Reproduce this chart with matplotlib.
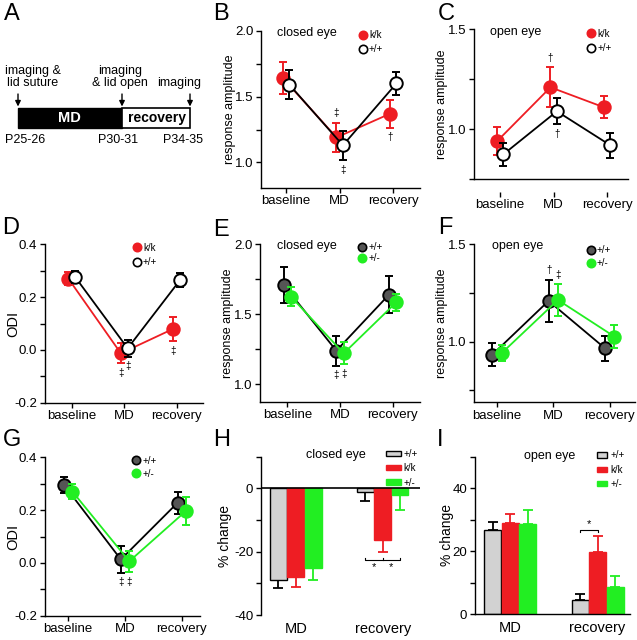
import numpy as np
import matplotlib
matplotlib.use('Agg')
import matplotlib.pyplot as plt
from matplotlib.patches import Rectangle
from matplotlib.lines import Line2D
from matplotlib.ticker import MultipleLocator

plt.rcParams['font.family'] = ['Liberation Sans', 'DejaVu Sans']
plt.rcParams['axes.unicode_minus'] = False

RED = '#ee1d23'
GREEN = '#22ee22'
DGRAY = '#555555'
LGRAY = '#d2d2d2'

stages = ['baseline', 'MD', 'recovery']
bar_groups = ['MD', 'recovery']

# A: timeline schematic
events = ['imaging &\nlid suture', 'imaging\n& lid open', 'imaging']
ages = ['P25-26', 'P30-31', 'P34-35']
periods = ['MD', 'recovery']

# B: closed eye, k/k vs +/+
b_kk = [1.64, 1.19, 1.37]
b_kk_err = [0.12, 0.11, 0.105]
b_wt = [1.59, 1.13, 1.60]
b_wt_err = [0.11, 0.11, 0.085]

# C: open eye, k/k vs +/+
c_kk = [0.94, 1.21, 1.11]
c_kk_err = [0.07, 0.10, 0.055]
c_wt = [0.875, 1.09, 0.92]
c_wt_err = [0.057, 0.065, 0.062]

# D: ODI, k/k vs +/+
d_kk = [0.27, -0.013, 0.08]
d_kk_err = [0.025, 0.038, 0.046]
d_wt = [0.276, 0.006, 0.265]
d_wt_err = [0.022, 0.032, 0.025]

# E: closed eye, +/+ vs +/-
e_wt = [1.71, 1.24, 1.64]
e_wt_err = [0.126, 0.106, 0.131]
e_het = [1.626, 1.221, 1.586]
e_het_err = [0.068, 0.078, 0.06]

# F: open eye, +/+ vs +/-
f_wt = [0.932, 1.209, 0.966]
f_wt_err = [0.06, 0.11, 0.064]
f_het = [0.94, 1.214, 1.026]
f_het_err = [0.04, 0.08, 0.058]

# G: ODI, +/+ vs +/-
g_wt = [0.295, 0.013, 0.228]
g_wt_err = [0.03, 0.05, 0.042]
g_het = [0.27, 0.006, 0.197]
g_het_err = [0.027, 0.04, 0.053]

# H: % change closed eye
h_wt = [-28.8, -1.3]
h_wt_err = [2.8, 2.6]
h_kk = [-28.0, -16.4]
h_kk_err = [3.1, 3.7]
h_het = [-25.1, -2.1]
h_het_err = [3.9, 4.6]

# I: % change open eye
i_wt = [26.6, 4.55]
i_wt_err = [2.6, 1.9]
i_kk = [28.9, 19.7]
i_kk_err = [2.8, 5.2]
i_het = [28.7, 8.6]
i_het_err = [4.4, 3.6]

W, H = 637, 640
fig = plt.figure(figsize=(W / 100, H / 100), dpi=100)


def rect(l, t, r, b):
    return [l / W, 1 - b / H, (r - l) / W, (b - t) / H]


def base_style(ax, ylim, major, minor, fs=9.5):
    for s in ['top', 'right']:
        ax.spines[s].set_visible(False)
    for s in ['left', 'bottom']:
        ax.spines[s].set_linewidth(1.0)
    ax.set_ylim(*ylim)
    ax.yaxis.set_major_locator(MultipleLocator(major))
    ax.yaxis.set_minor_locator(MultipleLocator(minor))
    ax.tick_params(axis='both', which='both', direction='out', width=1.0, labelsize=fs, pad=2)
    ax.tick_params(axis='both', which='major', length=3.5)
    ax.tick_params(axis='y', which='minor', length=3.5)


def line_panel(ax, series, xlim, ylim, major, minor, fmt, ylabel, ylab_x, ylab_fs,
               title, title_xy, leg_xy, leg_space, offset, marks):
    x = np.arange(len(stages))
    for i, s in enumerate(series):
        xs = x + (2 * i - 1) * offset
        ax.errorbar(xs, s['y'], yerr=s['err'], fmt='none', ecolor=s['ecolor'],
                    elinewidth=1.4, capsize=3, capthick=1.4, zorder=2 + 2 * i)
        ax.plot(xs, s['y'], color=s['line'], lw=1.3, marker='o', ms=9,
                mfc=s['face'], mec=s['edge'], mew=1.4, zorder=3 + 2 * i)
    for si, k, sym, side in marks:
        s = series[si]
        xs = k + (2 * si - 1) * offset
        if side == 'above':
            y0, dy = s['y'][k] + s['err'][k], 7
        else:
            y0, dy = s['y'][k] - s['err'][k], -7
        ax.annotate(sym, (xs, y0), xytext=(0, dy), textcoords='offset points',
                    ha='center', va='center', fontsize=7)
    base_style(ax, ylim, major, minor)
    ax.set_xlim(*xlim)
    ax.set_xticks(x)
    ax.set_xticklabels(stages)
    ax.yaxis.set_major_formatter(plt.FormatStrFormatter(fmt))
    ax.set_ylabel(ylabel, fontsize=ylab_fs)
    ax.yaxis.set_label_coords(ylab_x, 0.5)
    ax.yaxis.label.set_verticalalignment('center')
    if title:
        ax.text(title_xy[0], title_xy[1], title, transform=ax.transAxes,
                ha='center', va='center', fontsize=9)
    handles = [Line2D([], [], ls='none', marker='o', ms=6, mfc=s['face'], mec=s['edge'],
                      mew=1.2, label=s['label']) for s in series]
    ax.legend(handles=handles, loc='upper left', bbox_to_anchor=leg_xy, frameon=False,
              fontsize=7, handlelength=0.8, handletextpad=0.25, labelspacing=leg_space,
              borderpad=0, borderaxespad=0)


def bar_panel(ax, series, xlim, ylim, major, minor, labels_major, title, title_xy,
              leg_xy, leg_hl, sig):
    x = np.arange(len(bar_groups))
    width = 0.2
    for i, s in enumerate(series):
        xs = x + (i - 1) * width
        vals = np.array(s['y'])
        err = np.array(s['err'])
        lower = np.where(vals < 0, err, 0)
        upper = np.where(vals < 0, 0, err)
        ax.bar(xs, vals, width=width * 0.97, color=s['face'], edgecolor=s['edge'],
               linewidth=1.0, label=s['label'], zorder=2)
        ax.errorbar(xs, vals, yerr=[lower, upper], fmt='none', ecolor=s['ecolor'],
                    elinewidth=1.3, capsize=3.5, capthick=1.3, zorder=1)
    base_style(ax, ylim, major, minor)
    ax.set_yticks(labels_major)
    ax.set_xlim(*xlim)
    ax.set_xticks(x)
    ax.set_xticklabels(bar_groups, fontsize=10.5)
    ax.tick_params(axis='x', length=0, pad=5)
    ax.set_ylabel('% change', fontsize=10)
    ax.text(title_xy[0], title_xy[1], title, transform=ax.transAxes,
            ha='center', va='center', fontsize=9)
    ax.legend(loc='upper left', bbox_to_anchor=leg_xy, frameon=False, fontsize=7,
              handlelength=leg_hl, handleheight=0.5, handletextpad=0.3,
              labelspacing=0.45, borderpad=0, borderaxespad=0)
    # significance bracket
    g, a, b, ybr, tick, stars, ystar = sig
    xa = g + (a - 1) * width
    xb = g + (b - 1) * width
    ax.plot([xa, xa, xb, xb], [ybr + tick, ybr, ybr, ybr + tick], color='k', lw=0.8)
    if len(stars) > 1:
        ax.plot([(xa + xb) / 2] * 2, [ybr, ybr + tick], color='k', lw=0.8)
    for xs_ in stars:
        ax.text(g + xs_ * width, ystar, '*', ha='center', va='center', fontsize=8)


# ---------------- A: schematic ----------------
axA = fig.add_axes([0, 1 - 215 / H, 215 / W, 215 / H])
axA.set_xlim(0, 215)
axA.set_ylim(215, 0)
axA.axis('off')
ev_x = [18, 122, 190]
txt_x = [33, 120, 179]
age_x = [25.5, 118, 182.5]
axA.add_patch(Rectangle((ev_x[0], 107.5), ev_x[1] - ev_x[0], 20, facecolor='k', edgecolor='k', lw=1))
axA.add_patch(Rectangle((ev_x[1], 107.5), ev_x[2] - ev_x[1], 20, facecolor='white', edgecolor='k', lw=1.2))
axA.text((ev_x[0] + ev_x[1]) / 2 - 1, 118, periods[0], color='white', fontweight='bold',
         fontsize=10.5, ha='center', va='center')
axA.text((ev_x[1] + ev_x[2]) / 2 + 1, 118, periods[1], color='k', fontweight='bold',
         fontsize=10, ha='center', va='center')
for ex, tx, ax_, ev, ag in zip(ev_x, txt_x, age_x, events, ages):
    axA.annotate('', xy=(ex, 106.5), xytext=(ex, 94),
                 arrowprops=dict(arrowstyle='-|>', color='k', lw=1, mutation_scale=8,
                                 shrinkA=0, shrinkB=0))
    axA.text(tx, 89, ev, ha='center', va='bottom', fontsize=9, linespacing=1.05)
    axA.text(ax_, 140, ag, ha='center', va='center', fontsize=9)

# panel letters
letters = ['A', 'B', 'C', 'D', 'E', 'F', 'G', 'H', 'I']
letter_xy = [(12, 14), (221, 14.5), (446, 14), (11, 228.5), (221, 229.5), (445, 228),
             (12, 440), (222, 440), (440, 440)]
for L, (lx, ly) in zip(letters, letter_xy):
    fig.text(lx / W, 1 - ly / H, L, fontsize=17, ha='center', va='center')

open_k = dict(face='white', edge='k', line='k', ecolor='k', label='+/+')
red_k = dict(face=RED, edge=RED, line=RED, ecolor=RED, label='k/k')
gray_k = dict(face=DGRAY, edge='k', line='k', ecolor='k', label='+/+')
green_k = dict(face=GREEN, edge=GREEN, line=GREEN, ecolor=GREEN, label='+/-')

# ---------------- B ----------------
axB = fig.add_axes(rect(261, 30.7, 420, 187.5))
line_panel(axB, [dict(red_k, y=b_kk, err=b_kk_err), dict(open_k, y=b_wt, err=b_wt_err)],
           (-0.47, 2.5), (0.81, 2.0), 0.5, 0.25, '%.1f', 'response amplitude', -0.195, 9,
           'closed eye', (0.29, 0.985), (0.615, 1.005), 0.45, 0.06,
           [(0, 1, '\u2021', 'above'), (1, 1, '\u2021', 'below'), (0, 2, '\u2020', 'below')])

# ---------------- C ----------------
axC = fig.add_axes(rect(474, 29.3, 628, 179.3))
line_panel(axC, [dict(red_k, y=c_kk, err=c_kk_err), dict(open_k, y=c_wt, err=c_wt_err)],
           (-0.49, 2.39), (0.75, 1.5), 0.5, 0.25, '%.1f', 'response amplitude', -0.205, 9,
           'open eye', (0.27, 0.984), (0.735, 1.005), 0.45, 0.06,
           [(0, 1, '\u2020', 'above'), (1, 1, '\u2020', 'below')])
axC.spines['bottom'].set_position(('outward', 9))
axC.spines['bottom'].set_visible(False)
axC.axhline(0.75, color='k', lw=1.0, clip_on=False)

# ---------------- D ----------------
axD = fig.add_axes(rect(45, 244.3, 203, 402.7))
line_panel(axD, [dict(red_k, y=d_kk, err=d_kk_err), dict(open_k, y=d_wt, err=d_wt_err)],
           (-0.51, 2.5), (-0.2, 0.4), 0.2, 0.1, '%.1f', 'ODI', -0.2, 10.5,
           None, None, (0.555, 1.01), 0.45, 0.065,
           [(0, 1, '\u2021', 'below'), (1, 1, '\u2021', 'below'), (0, 2, '\u2021', 'below')])

# ---------------- E ----------------
axE = fig.add_axes(rect(260, 244.3, 420, 401.7))
line_panel(axE, [dict(gray_k, y=e_wt, err=e_wt_err), dict(green_k, y=e_het, err=e_het_err)],
           (-0.52, 2.52), (0.876, 2.0), 0.5, 0.25, '%.1f', 'response amplitude', -0.2, 9,
           'closed eye', (0.29, 0.99), (0.615, 1.015), 0.15, 0.07,
           [(0, 1, '\u2021', 'below'), (1, 1, '\u2021', 'below')])

# ---------------- F ----------------
axF = fig.add_axes(rect(474.3, 244.3, 635, 402.3))
line_panel(axF, [dict(gray_k, y=f_wt, err=f_wt_err), dict(green_k, y=f_het, err=f_het_err)],
           (-0.4, 2.45), (0.688, 1.5), 0.5, 0.25, '%.1f', 'response amplitude', -0.2, 9,
           'open eye', (0.27, 0.99), (0.70, 0.995), 0.3, 0.083,
           [(0, 1, '\u2020', 'above'), (1, 1, '\u2021', 'above')])

# ---------------- G ----------------
axG = fig.add_axes(rect(45, 457.3, 200, 615.7))
line_panel(axG, [dict(gray_k, y=g_wt, err=g_wt_err), dict(green_k, y=g_het, err=g_het_err)],
           (-0.41, 2.32), (-0.2, 0.4), 0.2, 0.1, '%.1f', 'ODI', -0.205, 10.5,
           None, None, (0.565, 1.01), 0.3, 0.074,
           [(0, 1, '\u2021', 'below'), (1, 1, '\u2021', 'below')])

# ---------------- H ----------------
bar_wt = dict(face=LGRAY, edge='k', ecolor='k', label='+/+')
bar_kk = dict(face=RED, edge=RED, ecolor=RED, label='k/k')
bar_het = dict(face=GREEN, edge=GREEN, ecolor=GREEN, label='+/-')

axH = fig.add_axes(rect(261, 456.7, 420, 615))
bar_panel(axH, [dict(bar_wt, y=h_wt, err=h_wt_err), dict(bar_kk, y=h_kk, err=h_kk_err),
                dict(bar_het, y=h_het, err=h_het_err)],
          (-0.40, 1.43), (-40, 10), 20, 10, [-40, -20, 0], 'closed eye', (0.47, 1.01),
          (0.786, 1.05), 1.5,
          (1, 0, 2, -22.7, 0.8, [-0.5, 0.5], -24.8))
axH.spines['bottom'].set_visible(False)
axH.axhline(0, color='k', lw=1.2, zorder=3)

# ---------------- I ----------------
axI = fig.add_axes(rect(475, 456.7, 630, 614.3))
bar_panel(axI, [dict(bar_wt, y=i_wt, err=i_wt_err), dict(bar_kk, y=i_kk, err=i_kk_err),
                dict(bar_het, y=i_het, err=i_het_err)],
          (-0.40, 1.37), (0, 50), 20, 10, [0, 20, 40], 'open eye', (0.48, 1.006),
          (0.79, 1.04), 1.0,
          (1, 0, 1, 26.8, -0.8, [-0.5], 28.6))
axI.yaxis.set_label_coords(-0.18, 0.5)
axH.yaxis.set_label_coords(-0.226, 0.5)
for a in (axH, axI):
    a.yaxis.label.set_verticalalignment('center')

fig.savefig('out.png', dpi=100)
